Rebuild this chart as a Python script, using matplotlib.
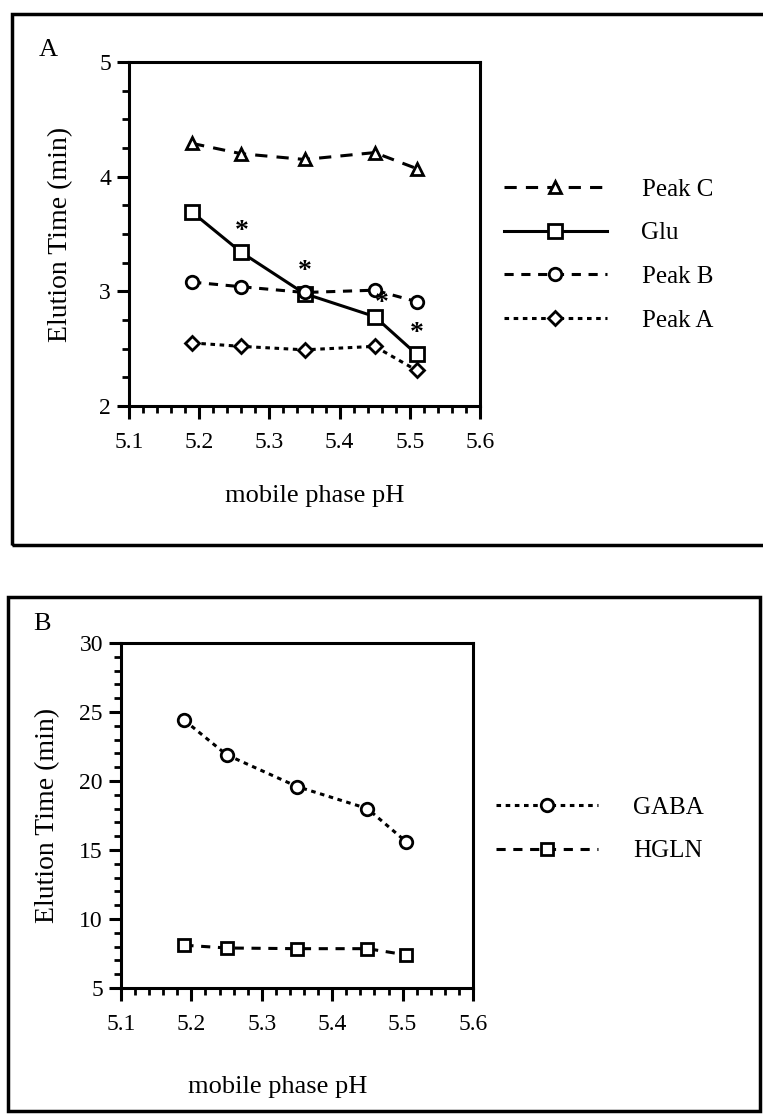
import numpy as np
import matplotlib.pyplot as plt
from matplotlib.patches import Rectangle
from matplotlib.ticker import MultipleLocator

plt.rcParams["font.family"] = ["Liberation Serif", "DejaVu Serif"]

# panel A data
ph_a = [5.19, 5.26, 5.35, 5.45, 5.51]
peak_c = [4.29, 4.20, 4.15, 4.21, 4.07]
glu = [3.69, 3.34, 2.98, 2.78, 2.45]
peak_b = [3.08, 3.04, 2.99, 3.01, 2.91]
peak_a = [2.55, 2.52, 2.49, 2.52, 2.31]
star_x = [5.26, 5.35, 5.46, 5.51]
star_y = [3.52, 3.17, 2.89, 2.63]

# panel B data
ph_b = [5.19, 5.25, 5.35, 5.45, 5.505]
gaba = [24.4, 21.9, 19.6, 18.0, 15.6]
hgln = [8.1, 7.9, 7.85, 7.85, 7.4]

W, H = 763, 1116
fig = plt.figure(figsize=(W / 100, H / 100), dpi=100)


def fx(px):
    return px / W


def fy(py):
    return 1 - py / H


def style_axes(ax, ymin, ymax, ymaj, ymin_step, xlab, ylab):
    ax.set_xlim(5.1, 5.6)
    ax.set_ylim(ymin, ymax)
    ax.xaxis.set_major_locator(MultipleLocator(0.1))
    ax.xaxis.set_minor_locator(MultipleLocator(0.02))
    ax.yaxis.set_major_locator(MultipleLocator(ymaj))
    ax.yaxis.set_minor_locator(MultipleLocator(ymin_step))
    ax.tick_params(which="major", direction="out", length=9, width=2.2,
                   labelsize=17, pad=4)
    ax.tick_params(axis="x", which="major", pad=10)
    ax.tick_params(which="minor", direction="out", length=5, width=2)
    ax.xaxis.set_major_formatter(plt.FuncFormatter(lambda v, p: f"{v:.1f}"))
    ax.yaxis.set_major_formatter(plt.FuncFormatter(lambda v, p: f"{v:g}"))
    for s in ax.spines.values():
        s.set_linewidth(2.2)
    ax.set_xlabel("mobile phase pH", fontsize=19)
    ax.set_ylabel("Elution Time (min)", fontsize=20)
    ax.xaxis.set_label_coords(*xlab)
    ax.yaxis.set_label_coords(*ylab)


mk = dict(mfc="white", mec="black", mew=2, color="black", lw=2.2)

# ---- panel A ----
axA = fig.add_axes([fx(129), fy(406), fx(480 - 129), (406 - 62) / H])
style_axes(axA, 2, 5, 1, 0.25, (0.53, -0.23), (-0.16, 0.5))
axA.plot(ph_a, peak_c, marker="^", ms=9, ls=(0, (4, 3)), label="Peak C", **mk)
axA.plot(ph_a, glu, marker="s", ms=10, ls="-", label="Glu", **mk)
axA.plot(ph_a, peak_b, marker="o", ms=9, ls=(0, (3, 2.5)), label="Peak B", **mk)
axA.plot(ph_a, peak_a, marker="D", ms=7, ls=(0, (1.5, 1.5)), label="Peak A", **mk)
for x, y in zip(star_x, star_y):
    axA.text(x, y, "*", ha="center", va="center", fontsize=20, fontweight="bold")
axA.legend(loc="upper left", bbox_to_anchor=(fx(504), fy(178)),
           bbox_transform=fig.transFigure, frameon=False, fontsize=18,
           handlelength=4.1, handletextpad=1.4, labelspacing=0.85,
           borderaxespad=0, borderpad=0)

# ---- panel B ----
axB = fig.add_axes([fx(121), fy(988), fx(473 - 121), (988 - 643) / H])
style_axes(axB, 5, 30, 5, 1, (0.446, -0.255), (-0.172, 0.5))
axB.plot(ph_b, gaba, marker="o", ms=9, ls=(0, (1.5, 1.5)), label="GABA", **mk)
axB.plot(ph_b, hgln, marker="s", ms=8, ls=(0, (3, 2.5)), label="HGLN", **mk)
axB.legend(loc="upper left", bbox_to_anchor=(fx(496), fy(796)),
           bbox_transform=fig.transFigure, frameon=False, fontsize=18,
           handlelength=4.1, handletextpad=1.4, labelspacing=0.85,
           borderaxespad=0, borderpad=0)

# panel frames and letters
fig.add_artist(Rectangle((fx(12), fy(545)), fx(780 - 12), (545 - 14) / H,
                         transform=fig.transFigure, fill=False, lw=2.5,
                         ec="black", clip_on=False))
fig.add_artist(Rectangle((fx(8), fy(1111)), fx(760 - 8), (1111 - 597) / H,
                         transform=fig.transFigure, fill=False, lw=2.5,
                         ec="black", clip_on=False))
fig.text(fx(48), fy(50), "A", fontsize=19, ha="center", va="center")
fig.text(fx(42), fy(624), "B", fontsize=19, ha="center", va="center")

fig.savefig("out.png", dpi=100)
